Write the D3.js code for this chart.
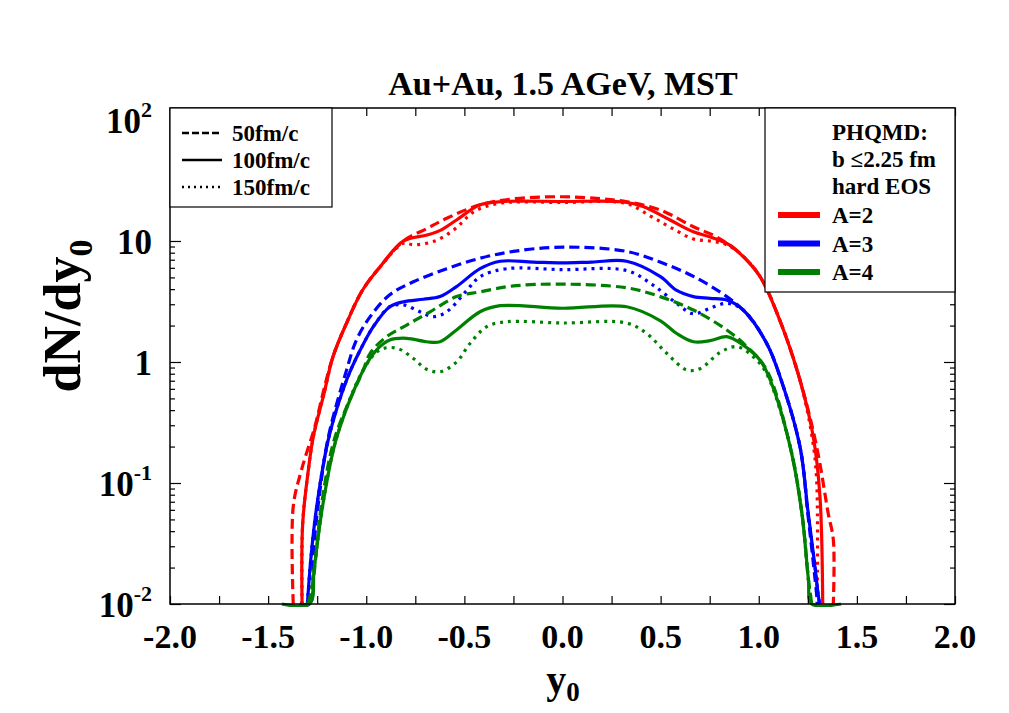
<!DOCTYPE html>
<html>
<head>
<meta charset="utf-8">
<script src="https://cdn.jsdelivr.net/npm/d3@7/dist/d3.min.js"></script>
<style>
  body { margin: 0; background: #fff; }
  svg text { font-family: "Liberation Serif", "DejaVu Serif", serif; font-weight: bold; fill: #000; }
</style>
</head>
<body>
<div id="view"></div>
<script>
// ---------- Data ----------
const TITLE = "Au+Au, 1.5 AGeV, MST";
const xTickVals = [-2, -1.5, -1, -0.5, 0, 0.5, 1, 1.5, 2];
const yDecades = [0.01, 0.1, 1, 10, 100];

// A=2 (red)
const a2_50 = [[-1.372,0.01],[-1.372,0.064],[-1.33,0.128],[-1.26,0.3],[-1.215,0.6],[-1.17,1.1],[-1.10,2.1],[-1.02,3.9],[-0.93,6.1],[-0.81,10],[-0.69,12.7],[-0.59,15.4],[-0.42,19.9],[-0.25,22.3],[0,23.2],[0.2,22.3],[0.33,21.1],[0.5,18.0],[0.667,13.1],[0.786,10.8],[0.904,7.9],[1.006,5.1],[1.108,2.2],[1.21,0.71],[1.295,0.2],[1.354,0.056],[1.38,0.034],[1.38,0.01]];
const a2_100 = [[-1.327,0.01],[-1.324,0.046],[-1.295,0.128],[-1.27,0.24],[-1.215,0.55],[-1.17,1.1],[-1.10,2.1],[-1.02,3.9],[-0.93,6.1],[-0.81,10],[-0.69,11.2],[-0.62,12.3],[-0.54,14.9],[-0.42,19.9],[-0.3,21.2],[0,21.2],[0.3,21.1],[0.41,19.3],[0.548,14.9],[0.667,11.9],[0.768,10.6],[0.85,9.3],[0.904,7.9],[1.006,5.1],[1.108,2.2],[1.21,0.71],[1.278,0.24],[1.312,0.077],[1.326,0.01]];
const a2_150 = [[-1.327,0.01],[-1.324,0.046],[-1.295,0.128],[-1.27,0.24],[-1.215,0.55],[-1.17,1.1],[-1.10,2.1],[-1.02,3.9],[-0.93,6.1],[-0.81,9.6],[-0.76,9.3],[-0.65,10],[-0.55,12.5],[-0.45,17.5],[-0.32,20.5],[0,20.8],[0.32,20.5],[0.45,16],[0.548,13],[0.667,10.4],[0.75,10],[0.83,9.4],[0.904,7.9],[1.006,5.1],[1.108,2.2],[1.21,0.71],[1.27,0.25],[1.295,0.106],[1.297,0.01]];

// A=3 (blue)
const a3_50 = [[-1.34,0.01],[-1.287,0.01],[-1.27,0.026],[-1.244,0.068],[-1.193,0.24],[-1.10,0.86],[-1.05,1.52],[-0.98,2.37],[-0.88,3.6],[-0.76,4.6],[-0.59,5.9],[-0.42,7.2],[-0.25,8.2],[0,8.9],[0.327,8.2],[0.497,6.7],[0.667,5.1],[0.837,3.47],[0.939,2.5],[1.04,1.43],[1.108,0.76],[1.21,0.2],[1.25,0.056],[1.287,0.016],[1.30,0.01]];
const a3_100 = [[-1.30,0.01],[-1.28,0.026],[-1.25,0.068],[-1.19,0.24],[-1.10,0.71],[-1.03,1.26],[-0.964,1.96],[-0.88,2.86],[-0.81,3.15],[-0.709,3.3],[-0.624,3.47],[-0.54,4.2],[-0.42,5.9],[-0.318,6.8],[-0.15,6.7],[0,6.6],[0.15,6.7],[0.327,6.8],[0.497,5.1],[0.582,3.9],[0.667,3.47],[0.752,3.36],[0.837,3.25],[0.921,2.69],[1.04,1.43],[1.108,0.76],[1.21,0.2],[1.25,0.06],[1.287,0.02],[1.30,0.013],[1.31,0.01]];
const a3_150 = [[-1.30,0.01],[-1.28,0.026],[-1.25,0.068],[-1.19,0.24],[-1.10,0.71],[-1.03,1.26],[-0.964,1.96],[-0.88,2.86],[-0.81,2.96],[-0.726,2.6],[-0.658,2.37],[-0.59,2.6],[-0.488,3.9],[-0.42,5.07],[-0.285,5.9],[0,5.8],[0.327,5.7],[0.463,4.3],[0.582,3.05],[0.667,2.5],[0.752,2.78],[0.837,3.05],[0.921,2.69],[1.04,1.43],[1.108,0.76],[1.21,0.2],[1.25,0.06],[1.287,0.02],[1.30,0.013],[1.31,0.01]];

// A=4 (green)
const a4_50 = [[-1.30,0.01],[-1.278,0.013],[-1.227,0.068],[-1.159,0.24],[-1.015,0.86],[-0.98,1.18],[-0.896,1.62],[-0.794,2.02],[-0.675,2.6],[-0.54,3.47],[-0.42,3.8],[-0.25,4.25],[0,4.4],[0.327,4.1],[0.497,3.47],[0.667,2.69],[0.837,1.84],[0.939,1.34],[1.04,0.86],[1.16,0.2],[1.22,0.056],[1.253,0.016],[1.27,0.01]];
const a4_100 = [[-1.43,0.01],[-1.29,0.01],[-1.265,0.02],[-1.22,0.068],[-1.15,0.24],[-1.015,0.86],[-0.947,1.26],[-0.88,1.52],[-0.794,1.57],[-0.692,1.47],[-0.624,1.47],[-0.54,1.84],[-0.42,2.6],[-0.318,2.92],[0,2.78],[0.327,2.86],[0.497,2.2],[0.582,1.72],[0.667,1.47],[0.752,1.5],[0.837,1.62],[0.921,1.38],[1.006,1.04],[1.06,0.7],[1.16,0.2],[1.22,0.056],[1.253,0.016],[1.27,0.01],[1.42,0.01]];
const a4_150 = [[-1.29,0.01],[-1.265,0.02],[-1.22,0.068],[-1.15,0.24],[-1.015,0.86],[-0.93,1.26],[-0.845,1.3],[-0.76,1.07],[-0.692,0.87],[-0.624,0.83],[-0.54,1.0],[-0.47,1.43],[-0.386,1.96],[-0.285,2.15],[0,2.1],[0.327,2.1],[0.429,1.72],[0.531,1.18],[0.633,0.86],[0.701,0.88],[0.803,1.2],[0.888,1.34],[0.973,1.1],[1.04,0.8],[1.16,0.2],[1.22,0.056],[1.253,0.016],[1.27,0.01]];

const timeLabels = ["50fm/c", "100fm/c", "150fm/c"];
const massLabels = ["A=2", "A=3", "A=4"];
const infoLines = ["PHQMD:", "b \u22642.25 fm", "hard EOS"];

// ---------- Styles ----------
const COLORS = { A2: "#ff0000", A3: "#0000ff", A4: "#008000" };
const DASH = { "50": "10,5", "100": null, "150": "3,5" };

const series = [
  { data: a2_50, color: COLORS.A2, t: "50" },
  { data: a2_100, color: COLORS.A2, t: "100" },
  { data: a2_150, color: COLORS.A2, t: "150" },
  { data: a3_50, color: COLORS.A3, t: "50" },
  { data: a3_100, color: COLORS.A3, t: "100" },
  { data: a3_150, color: COLORS.A3, t: "150" },
  { data: a4_50, color: COLORS.A4, t: "50" },
  { data: a4_100, color: COLORS.A4, t: "100" },
  { data: a4_150, color: COLORS.A4, t: "150" }
];

// ---------- Layout ----------
const W = 1009, H = 713;
const M = { t: 108, l: 170 };
const w = 785, h = 496;

const svg = d3.select("#view").append("svg").attr("width", W).attr("height", H);
const g = svg.append("g").attr("transform", `translate(${M.l},${M.t})`);

const x = d3.scaleLinear().domain([-2, 2]).range([0, w]);
const y = d3.scaleLog().domain([0.01, 125.6]).range([h, 0]);

svg.append("defs").append("clipPath").attr("id", "plotclip")
  .append("rect").attr("width", w).attr("height", h + 3);

// ---------- Curves ----------
const line = d3.line()
  .x(d => x(d[0]))
  .y(d => y(d[1]))
  .curve(d3.curveCatmullRom.alpha(0.5));

const curves = g.append("g").attr("clip-path", "url(#plotclip)");
curves.selectAll("path")
  .data(series)
  .join("path")
  .attr("d", d => line(d.data))
  .attr("fill", "none")
  .attr("stroke", d => d.color)
  .attr("stroke-width", 3.2)
  .attr("stroke-dasharray", d => DASH[d.t]);

// ---------- Axes (ticks inward, mirrored) ----------
const xq = d3.range(-2, 2.001, 0.25);
const minors = [];
yDecades.forEach(dec => { for (let k = 2; k <= 9; k++) if (dec * k < 125) minors.push(dec * k); });

function styleAxis(sel) {
  sel.select(".domain").remove();
  sel.selectAll("line").attr("stroke", "#000").attr("stroke-width", 1.2);
  sel.selectAll("text").remove();
}
g.append("g").attr("transform", `translate(0,${h})`)
  .call(d3.axisBottom(x).tickValues(xq).tickSize(-8)).call(styleAxis);
g.append("g")
  .call(d3.axisTop(x).tickValues(xq).tickSize(-8)).call(styleAxis);
g.append("g").call(d3.axisLeft(y).tickValues(yDecades).tickSize(-11)).call(styleAxis);
g.append("g").call(d3.axisLeft(y).tickValues(minors).tickSize(-5)).call(styleAxis);
g.append("g").attr("transform", `translate(${w},0)`)
  .call(d3.axisRight(y).tickValues(yDecades).tickSize(-11)).call(styleAxis);
g.append("g").attr("transform", `translate(${w},0)`)
  .call(d3.axisRight(y).tickValues(minors).tickSize(-5)).call(styleAxis);

// frame
g.append("rect").attr("width", w).attr("height", h)
  .attr("fill", "none").attr("stroke", "#000").attr("stroke-width", 1.5);

// x tick labels
g.selectAll("text.xl")
  .data(xTickVals)
  .join("text")
  .attr("class", "xl")
  .attr("x", d => x(d))
  .attr("y", h + 44)
  .attr("text-anchor", "middle")
  .style("font-size", "34px")
  .text(d => d3.format(".1f")(d).replace("\u2212", "-"));

// y tick labels
const yl = g.selectAll("text.yl")
  .data(yDecades)
  .join("text")
  .attr("class", "yl")
  .attr("x", -18)
  .attr("y", d => y(d) + 13)
  .attr("text-anchor", "end")
  .style("font-size", "35px");
yl.each(function (d) {
  const t = d3.select(this);
  if (d === 1 || d === 10) { t.text(d); return; }
  t.append("tspan").text("10");
  t.append("tspan").attr("dy", -16).style("font-size", "22px")
    .text(Math.round(Math.log10(d)));
});

// axis titles
const yt = svg.append("text")
  .attr("transform", `translate(80,316) rotate(-90)`)
  .attr("text-anchor", "middle")
  .style("font-size", "52px");
yt.append("tspan").text("dN/dy");
yt.append("tspan").attr("dy", 12).style("font-size", "34px").text("0");

const xt = svg.append("text")
  .attr("x", 563).attr("y", 693)
  .attr("text-anchor", "middle")
  .style("font-size", "40px");
xt.append("tspan").text("y");
xt.append("tspan").attr("dy", 8).style("font-size", "27px").text("0");

// title
svg.append("text")
  .attr("x", 563).attr("y", 95)
  .attr("text-anchor", "middle")
  .style("font-size", "34px")
  .text(TITLE);

// ---------- Legend: times ----------
const lg1 = g.append("g");
lg1.append("rect").attr("x", 0).attr("y", 0).attr("width", 162).attr("height", 99)
  .attr("fill", "#fff").attr("stroke", "#000").attr("stroke-width", 1.2);
const tKeys = ["50", "100", "150"];
tKeys.forEach((k, i) => {
  const yy = 25 + i * 27;
  lg1.append("line").attr("x1", 12).attr("x2", 52).attr("y1", yy).attr("y2", yy)
    .attr("stroke", "#000").attr("stroke-width", 2.5)
    .attr("stroke-dasharray", k === "50" ? "7,3" : k === "150" ? "2,4" : null);
  lg1.append("text").attr("x", 62).attr("y", yy + 8)
    .style("font-size", "23px").text(timeLabels[i]);
});

// ---------- Legend: mass numbers ----------
const lg2 = g.append("g").attr("transform", `translate(${595},0)`);
lg2.append("rect").attr("x", 0).attr("y", 0).attr("width", 190).attr("height", 184)
  .attr("fill", "#fff").attr("stroke", "#000").attr("stroke-width", 1.2);
infoLines.forEach((s, i) => {
  lg2.append("text").attr("x", 67).attr("y", 32 + i * 27)
    .style("font-size", "23px").text(s);
});
[COLORS.A2, COLORS.A3, COLORS.A4].forEach((c, i) => {
  const yy = 107 + i * 28.5;
  lg2.append("line").attr("x1", 13).attr("x2", 55).attr("y1", yy).attr("y2", yy)
    .attr("stroke", c).attr("stroke-width", 6);
  lg2.append("text").attr("x", 67).attr("y", yy + 8)
    .style("font-size", "23px").text(massLabels[i]);
});
</script>
</body>
</html>
